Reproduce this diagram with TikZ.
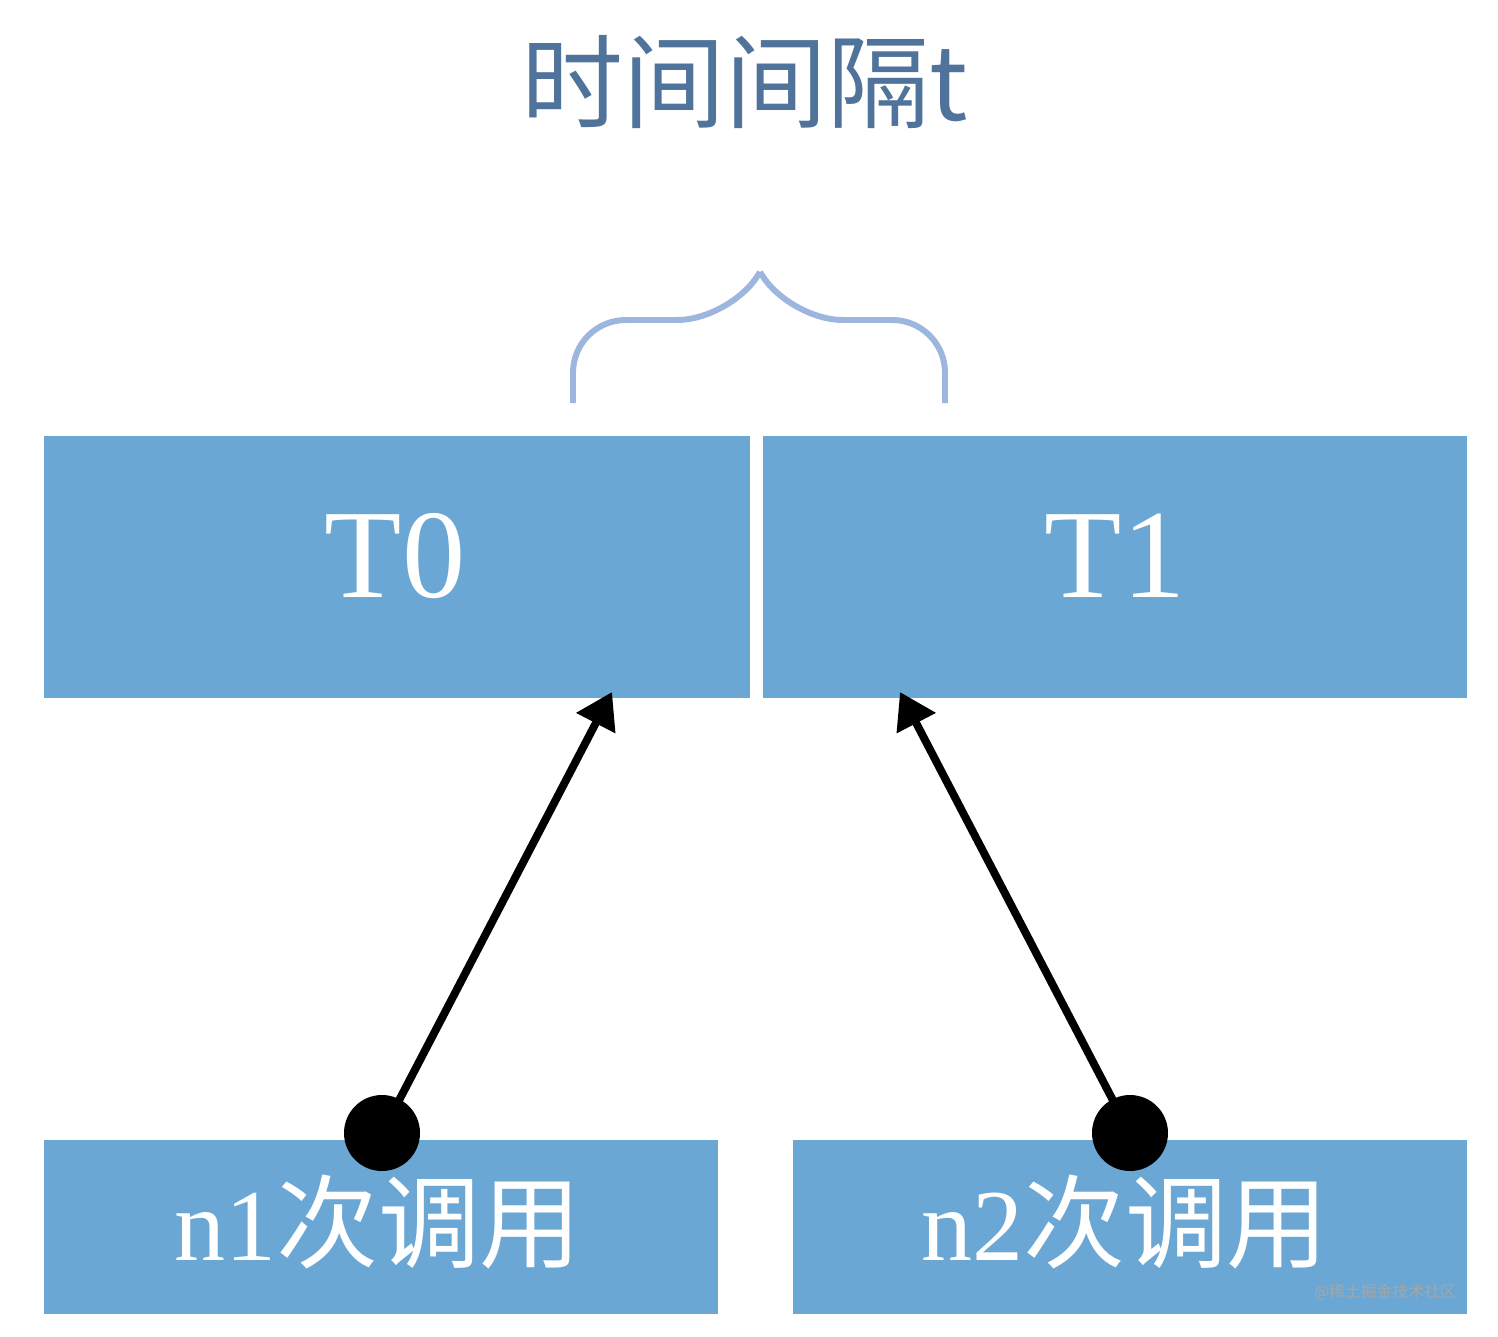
\documentclass[tikz,border=0pt]{standalone}
\usepackage{fontspec}
\setmainfont{Liberation Serif}
\newfontfamily\cjk{Noto Sans CJK SC}
\usetikzlibrary{arrows.meta}
\definecolor{boxblue}{HTML}{6BA7D5}
\definecolor{titleblue}{HTML}{4F739A}
\definecolor{bracecol}{HTML}{9CB6DE}
\begin{document}
\begin{tikzpicture}[x=0.02cm,y=-0.02cm,
  blk/.style={fill=boxblue,draw=none,text=white},
  conn/.style={line width=4.5pt,-{Triangle[length=20pt,width=24pt]}}]
\useasboundingbox (0,0) rectangle (1498,1336);
\fill[white] (0,0) rectangle (1498,1336);
\node[text=titleblue,font=\cjk\fontsize{58}{60}\selectfont] (title) at (745,82) {时间间隔t};
\draw[bracecol,line width=3.4pt,rounded corners=30] (573,403) -- (573,320) -- (730,320) -- (760,272);
\draw[bracecol,line width=3.4pt,rounded corners=30] (945,403) -- (945,320) -- (790,320) -- (760,272);
\fill[boxblue] (44,436) rectangle (750,698);
\fill[boxblue] (763,436) rectangle (1467,698);
\fill[boxblue] (44,1140) rectangle (718,1314);
\fill[boxblue] (793,1140) rectangle (1467,1314);
\node[text=white,font=\fontsize{72}{74}\selectfont] (t0) at (395,556) {T0};
\node[text=white,font=\fontsize{72}{74}\selectfont] (t1) at (1115,556) {T1};
\node[text=white,font=\fontsize{58}{60}\selectfont] (n1) at (378,1222) {n1{\cjk 次调用}};
\node[text=white,font=\fontsize{58}{60}\selectfont] (n2) at (1125,1222) {n2{\cjk 次调用}};
\coordinate (d1) at (382,1133);
\coordinate (d2) at (1130,1133);
\coordinate (a1) at (612,692);
\coordinate (a2) at (900,692);
\draw[conn] (d1) -- (a1);
\draw[conn] (d2) -- (a2);
\fill (d1) circle (38);
\fill (d2) circle (38);
\node[text=gray!70,font=\cjk\fontsize{9}{10}\selectfont] (wm) at (1385,1292) {@稀土掘金技术社区};
\end{tikzpicture}
\end{document}
